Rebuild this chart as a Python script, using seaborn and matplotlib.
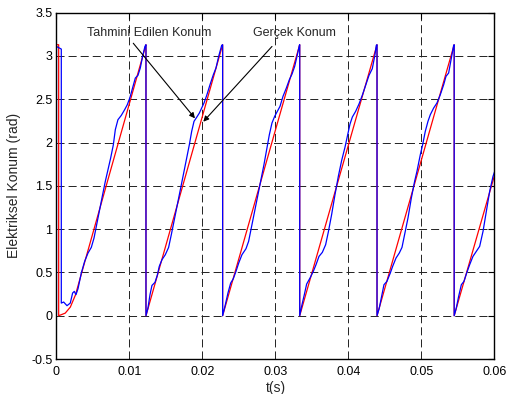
import matplotlib
matplotlib.use("Agg")
import matplotlib.pyplot as plt
import seaborn as sns
import pandas as pd

# ---- data ----
red_t = [0, 0.0003, 0.0003, 0.0012, 0.0019, 0.0026, 0.0032, 0.01226, 0.01226,
         0.02276, 0.02276, 0.03332, 0.03332, 0.04391, 0.04391, 0.05448, 0.05448, 0.06]
red_v = [3.13, 3.13, 0, 0.03, 0.10, 0.24, 0.42, 3.13, 0,
         3.13, 0, 3.13, 0, 3.13, 0, 3.13, 0, 1.62]

blue_t1 = [0, 0, 0.00066, 0.00066, 0.00098, 0.00144, 0.00189, 0.00221, 0.00244, 0.00267,
           0.00295, 0.00340, 0.00386, 0.00432, 0.00477, 0.00514, 0.00550, 0.00596, 0.00632,
           0.00669, 0.00705, 0.00742, 0.00779, 0.00806, 0.00842, 0.00888, 0.00934, 0.00970,
           0.01007, 0.01043, 0.01080, 0.01116, 0.01148, 0.01180, 0.01212, 0.01226]
blue_v1 = [0, 3.11, 3.08, 0.146, 0.158, 0.116, 0.146, 0.262, 0.281, 0.243,
           0.312, 0.493, 0.628, 0.724, 0.789, 0.897, 1.051, 1.244, 1.398,
           1.552, 1.687, 1.821, 1.975, 2.149, 2.264, 2.314, 2.380, 2.437,
           2.522, 2.630, 2.745, 2.776, 2.861, 2.996, 3.111, 3.13]

blue_t2 = [0.01226, 0.01253, 0.01281, 0.01308, 0.01349, 0.01381, 0.01408, 0.01445, 0.01491,
           0.01536, 0.01573, 0.01619, 0.01664, 0.01710, 0.01747, 0.01783, 0.01820, 0.01852,
           0.01884, 0.01920, 0.01957, 0.01989, 0.02021, 0.02058, 0.02103, 0.02149, 0.02185,
           0.02222, 0.02263, 0.02276]
blue_v2 = [0, 0.089, 0.243, 0.350, 0.385, 0.466, 0.570, 0.647, 0.705,
           0.789, 0.936, 1.128, 1.321, 1.513, 1.667, 1.821, 1.975, 2.129,
           2.245, 2.291, 2.341, 2.399, 2.457, 2.545, 2.668, 2.784, 2.861,
           2.996, 3.123, 3.13]

blue_t3 = [0.02276, 0.02313, 0.02349, 0.02386, 0.02422, 0.02459, 0.02496, 0.02541, 0.02596,
           0.02632, 0.02669, 0.02715, 0.02760, 0.02806, 0.02842, 0.02879, 0.02916, 0.02952,
           0.02989, 0.03025, 0.03062, 0.03103, 0.03149, 0.03190, 0.03227, 0.03263, 0.03300,
           0.03327, 0.03332]
blue_v3 = [0, 0.127, 0.262, 0.377, 0.427, 0.512, 0.608, 0.705, 0.774,
           0.859, 1.013, 1.205, 1.398, 1.590, 1.744, 1.918, 2.091, 2.226,
           2.303, 2.360, 2.418, 2.534, 2.630, 2.726, 2.792, 2.880, 3.015,
           3.123, 3.13]

blue_t4 = [0.03332, 0.03358, 0.03395, 0.03427, 0.03473, 0.03518, 0.03555, 0.03596, 0.03642,
           0.03687, 0.03724, 0.03769, 0.03815, 0.03861, 0.03906, 0.03952, 0.03989, 0.04021,
           0.04053, 0.04098, 0.04144, 0.04189, 0.04235, 0.04281, 0.04326, 0.04363, 0.04381,
           0.04391]
blue_v4 = [0, 0.108, 0.243, 0.366, 0.435, 0.512, 0.589, 0.685, 0.732,
           0.820, 0.967, 1.167, 1.398, 1.610, 1.791, 1.945, 2.091, 2.214,
           2.295, 2.360, 2.445, 2.545, 2.661, 2.776, 2.853, 3.015, 3.123,
           3.13]

blue_t5 = [0.04391, 0.04422, 0.04458, 0.04486, 0.04527, 0.04573, 0.04605, 0.04651, 0.04696,
           0.04733, 0.04769, 0.04815, 0.04861, 0.04906, 0.04938, 0.04984, 0.05016, 0.05052,
           0.05089, 0.05121, 0.05167, 0.05212, 0.05258, 0.05304, 0.05336, 0.05372, 0.05409,
           0.05441, 0.05448]
blue_v5 = [0, 0.089, 0.243, 0.358, 0.397, 0.493, 0.570, 0.666, 0.724,
           0.789, 0.936, 1.128, 1.359, 1.552, 1.667, 1.860, 1.975, 2.129,
           2.245, 2.322, 2.399, 2.457, 2.553, 2.668, 2.765, 2.803, 2.977,
           3.123, 3.13]

blue_t6 = [0.05448, 0.05477, 0.05509, 0.05546, 0.05582, 0.05619, 0.05660, 0.05705, 0.05751,
           0.05797, 0.05843, 0.05888, 0.05934, 0.05980, 0.06]
blue_v6 = [0, 0.089, 0.223, 0.358, 0.397, 0.493, 0.589, 0.685, 0.743,
           0.801, 0.974, 1.205, 1.436, 1.610, 1.66]

x_ticks = [0, 0.01, 0.02, 0.03, 0.04, 0.05, 0.06]
x_labels = ["0", "0.01", "0.02", "0.03", "0.04", "0.05", "0.06"]
y_ticks = [-0.5, 0, 0.5, 1, 1.5, 2, 2.5, 3, 3.5]
y_labels = ["-0.5", "0", "0.5", "1", "1.5", "2", "2.5", "3", "3.5"]

label_est = "Tahmini Edilen Konum"
label_real = "Gerçek Konum"
xlabel = "t(s)"
ylabel = "Elektriksel Konum (rad)"

# ---- style ----
sns.set_style("white")
plt.rcParams["font.family"] = ["Liberation Sans", "DejaVu Sans"]
plt.rcParams["lines.scale_dashes"] = False

fig = plt.figure(figsize=(5.07, 3.94), dpi=100)
ax = fig.add_axes([0.1114, 0.0888, 0.8639, 0.879])

red_df = pd.DataFrame({"t": red_t, "v": red_v})
blue_df = pd.DataFrame({
    "t": blue_t1 + blue_t2 + blue_t3 + blue_t4 + blue_t5 + blue_t6,
    "v": blue_v1 + blue_v2 + blue_v3 + blue_v4 + blue_v5 + blue_v6,
})

sns.lineplot(data=red_df, x="t", y="v", sort=False, estimator=None, color="#ff0000",
             lw=0.9, ax=ax)
sns.lineplot(data=blue_df, x="t", y="v", sort=False, estimator=None, color="#0000ff",
             lw=0.9, ax=ax)

ax.set_xlim(0, 0.06)
ax.set_ylim(-0.5, 3.5)
ax.set_xticks(x_ticks)
ax.set_xticklabels(x_labels)
ax.set_yticks(y_ticks)
ax.set_yticklabels(y_labels)
ax.tick_params(direction="in", top=True, right=True, length=4, width=0.8,
               labelsize=9, colors="black")
ax.tick_params(axis="x", pad=5)
ax.tick_params(axis="y", pad=3)
ax.grid(True, color="#222222", linestyle=(0, (5.8, 2.9)), linewidth=0.7)
for s in ax.spines.values():
    s.set_color("black")
    s.set_linewidth(1.0)

ax.set_xlabel(xlabel, fontsize=10, labelpad=2)
ax.set_ylabel(ylabel, fontsize=10, labelpad=7)

# annotations
ax.text(0.01271, 3.266, label_est, fontsize=9, ha="center", va="center")
ax.text(0.0326, 3.266, label_real, fontsize=9, ha="center", va="center")
arrow_kw = dict(arrowstyle="-|>", color="black", lw=0.8, mutation_scale=8,
                shrinkA=0, shrinkB=0)
ax.annotate("", xy=(0.01897, 2.280), xytext=(0.01052, 3.147), arrowprops=arrow_kw)
ax.annotate("", xy=(0.02011, 2.241), xytext=(0.02952, 3.110), arrowprops=arrow_kw)

fig.savefig("out.png", dpi=100)
